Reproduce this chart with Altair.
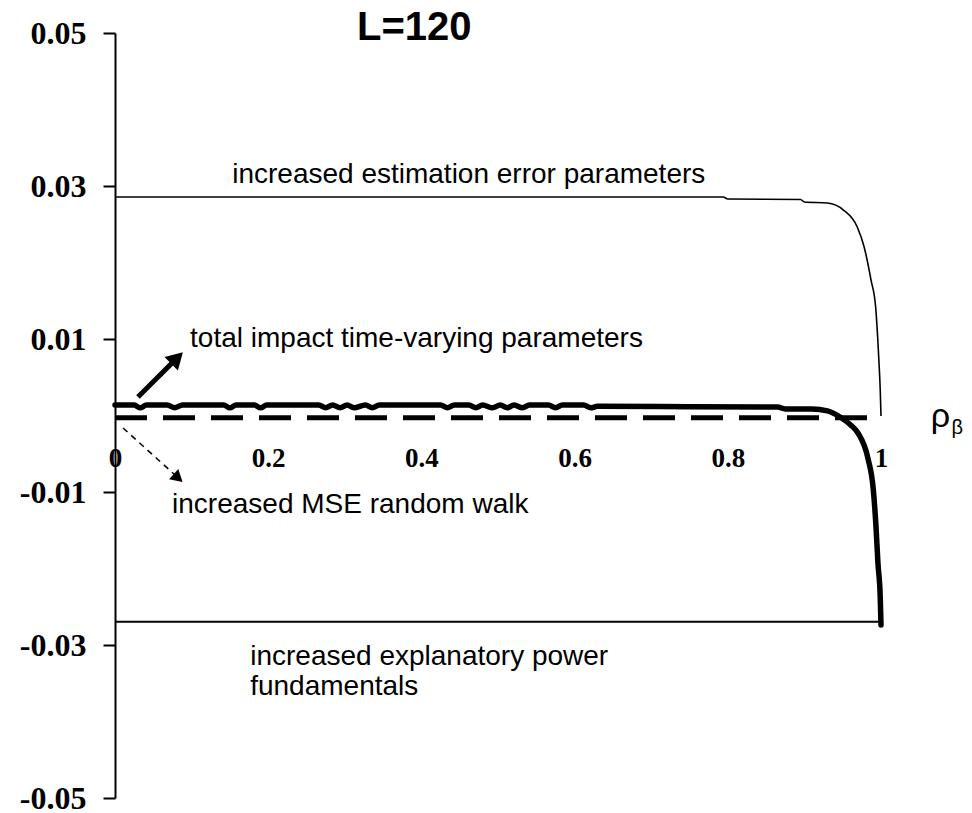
import altair as alt
import pandas as pd

# ---------------- data ----------------
est_rho = [0.0, 0.794, 0.80, 0.895, 0.90, 0.93, 0.951, 0.969, 0.978, 0.987, 0.993, 0.997, 0.999, 1.0]
est_val = [0.02856, 0.02856, 0.0283, 0.02824, 0.0279, 0.02778, 0.02686, 0.02464, 0.02203,
           0.0177, 0.01418, 0.00765, 0.00333, -0.00007]

exp_rho = [0.0, 1.0]
exp_val = [-0.02695, -0.02695]

rw_rho = [0.0, 0.983]
rw_val = [-0.0003, -0.0003]

tot_rho = [0.0, 0.025, 0.033, 0.041, 0.068, 0.078, 0.088, 0.142, 0.150, 0.158,
           0.182, 0.190, 0.198, 0.266, 0.275, 0.284, 0.294, 0.303, 0.312, 0.327,
           0.336, 0.345, 0.425, 0.434, 0.443, 0.462, 0.471, 0.480, 0.493, 0.503,
           0.512, 0.521, 0.532, 0.541, 0.566, 0.575, 0.584, 0.612, 0.621, 0.630,
           0.75, 0.865, 0.875, 0.91, 0.93, 0.948, 0.960, 0.970, 0.983, 0.990,
           0.9935, 0.996, 0.999, 1.0]
tot_val = [0.00137, 0.00137, 0.00100, 0.00137, 0.00137, 0.00100, 0.00137, 0.00137, 0.00100, 0.00137,
           0.00137, 0.00100, 0.00137, 0.00137, 0.00100, 0.00137, 0.00100, 0.00137, 0.00100, 0.00137,
           0.00100, 0.00137, 0.00137, 0.00100, 0.00137, 0.00137, 0.00100, 0.00137, 0.00100, 0.00137,
           0.00100, 0.00137, 0.00100, 0.00137, 0.00137, 0.00100, 0.00137, 0.00137, 0.00100, 0.00120,
           0.00115, 0.00110, 0.00085, 0.00085, 0.00060, -0.00030, -0.00120, -0.00229, -0.00562, -0.00974,
           -0.01458, -0.01928, -0.02373, -0.02739]

y_ticks = [-0.05, -0.03, -0.01, 0.01, 0.03, 0.05]
x_ticks = [0, 0.2, 0.4, 0.6, 0.8, 1]

ann_text = ["increased estimation error parameters", "total impact time-varying parameters",
            "increased MSE random walk", "increased explanatory power", "fundamentals"]
ann_x = [0.153, 0.098, 0.0745, 0.1765, 0.1765]
ann_y = [0.0304, 0.00895, -0.01275, -0.03261, -0.03654]

title_text = ["L=120"]
title_x = [0.316]
title_y = [0.04908]

# arrows: start / end of shaft, head position and direction
arrow_x = [0.030, 0.0105]
arrow_y = [0.00242, -0.00163]
arrow_x2 = [0.0784, 0.0784]
arrow_y2 = [0.00725, -0.00778]
head_x = [0.081, 0.0824]
head_y = [0.00752, -0.00817]
head_angle = [45, 132]

# ---------------- chart ----------------
xs = alt.Scale(domain=[0, 1], nice=False, zero=False)
ys = alt.Scale(domain=[-0.05, 0.05], nice=False, zero=False)

x_axis = alt.Axis(values=x_ticks, format="~g", orient="bottom", offset=-382.5, domain=False,
                  ticks=False, grid=False, labelFont="Liberation Serif", labelFontWeight="bold",
                  labelFontSize=27, labelColor="black", labelPadding=30, labelOverlap=False,
                  labelFlush=False, title="")
y_axis = alt.Axis(values=y_ticks, labelExpr="(datum.value < 0 ? '-' : '') + format(abs(datum.value), '.2f')",
                  domain=True, domainColor="black", domainWidth=2, ticks=True, tickSize=12,
                  tickWidth=2, tickColor="black", grid=False, labelFont="Liberation Serif",
                  labelFontWeight="bold", labelFontSize=32, labelColor="black", labelPadding=17,
                  labelOverlap=False, labelFlush=False, title="")

X = alt.X("rho:Q", scale=xs, axis=x_axis)
Y = alt.Y("v:Q", scale=ys, axis=y_axis)


def line_df(r, v):
    return pd.DataFrame({"rho": r, "v": v, "i": list(range(len(r)))})


est = alt.Chart(line_df(est_rho, est_val)).mark_line(color="black", strokeWidth=1.6,
                                                     interpolate="monotone").encode(
    x=X, y=Y, order="i:Q")
expl = alt.Chart(line_df(exp_rho, exp_val)).mark_line(color="black", strokeWidth=2).encode(
    x=X, y=Y, order="i:Q")
rw = alt.Chart(line_df(rw_rho, rw_val)).mark_line(color="black", strokeWidth=5,
                                                  strokeDash=[32, 16], strokeCap="butt").encode(
    x=X, y=Y, order="i:Q")
tot = alt.Chart(line_df(tot_rho, tot_val)).mark_line(color="black", strokeWidth=5.5,
                                                     strokeJoin="round", strokeCap="round",
                                                     interpolate="monotone").encode(
    x=X, y=Y, order="i:Q")

arr_df = pd.DataFrame({"rho": arrow_x, "v": arrow_y, "rho2": arrow_x2, "v2": arrow_y2,
                       "kind": ["solid", "dashed"]})
arr_solid = alt.Chart(arr_df[arr_df.kind == "solid"]).mark_rule(color="black", strokeWidth=5).encode(
    x=X, y=Y, x2="rho2:Q", y2="v2:Q")
arr_dash = alt.Chart(arr_df[arr_df.kind == "dashed"]).mark_rule(color="black", strokeWidth=1.5,
                                                                 strokeDash=[6, 5]).encode(
    x=X, y=Y, x2="rho2:Q", y2="v2:Q")
head_df = pd.DataFrame({"rho": head_x, "v": head_y, "a": head_angle, "s": [360, 190]})
heads = alt.Chart(head_df).mark_point(shape="triangle-up", filled=True, color="black", opacity=1).encode(
    x=X, y=Y, angle=alt.Angle("a:Q", scale=None), size=alt.Size("s:Q", scale=None))

ann_df = pd.DataFrame({"rho": ann_x, "v": ann_y, "t": ann_text})
ann = alt.Chart(ann_df).mark_text(align="left", baseline="alphabetic", font="Liberation Sans",
                                  fontSize=28, color="black").encode(x=X, y=Y, text="t:N")

title_df = pd.DataFrame({"rho": title_x, "v": title_y, "t": title_text})
title = alt.Chart(title_df).mark_text(align="left", baseline="alphabetic", font="Liberation Sans",
                                      fontWeight="bold", fontSize=40, color="black").encode(
    x=X, y=Y, text="t:N")

rho_df = pd.DataFrame({"rho": [1.065], "v": [-0.0015], "t": ["ρ"]})
rho_lab = alt.Chart(rho_df).mark_text(align="left", baseline="alphabetic", font="Liberation Sans",
                                      fontSize=34, color="black").encode(x=X, y=Y, text="t:N")
beta_df = pd.DataFrame({"rho": [1.092], "v": [-0.00242], "t": ["β"]})
beta_lab = alt.Chart(beta_df).mark_text(align="left", baseline="alphabetic", font="Liberation Sans",
                                        fontSize=20, color="black").encode(x=X, y=Y, text="t:N")

chart = alt.layer(rw, est, expl, tot, arr_solid, arr_dash, heads, ann, title, rho_lab, beta_lab).properties(
    width=766, height=765,
    autosize=alt.AutoSizeParams(type="none"),
    padding={"left": 107, "top": 25, "right": 83, "bottom": 22},
    background="white",
).configure_view(stroke=None).configure_axis(grid=False)

chart.save("out.html", embed_options={"renderer": "svg", "actions": False})
